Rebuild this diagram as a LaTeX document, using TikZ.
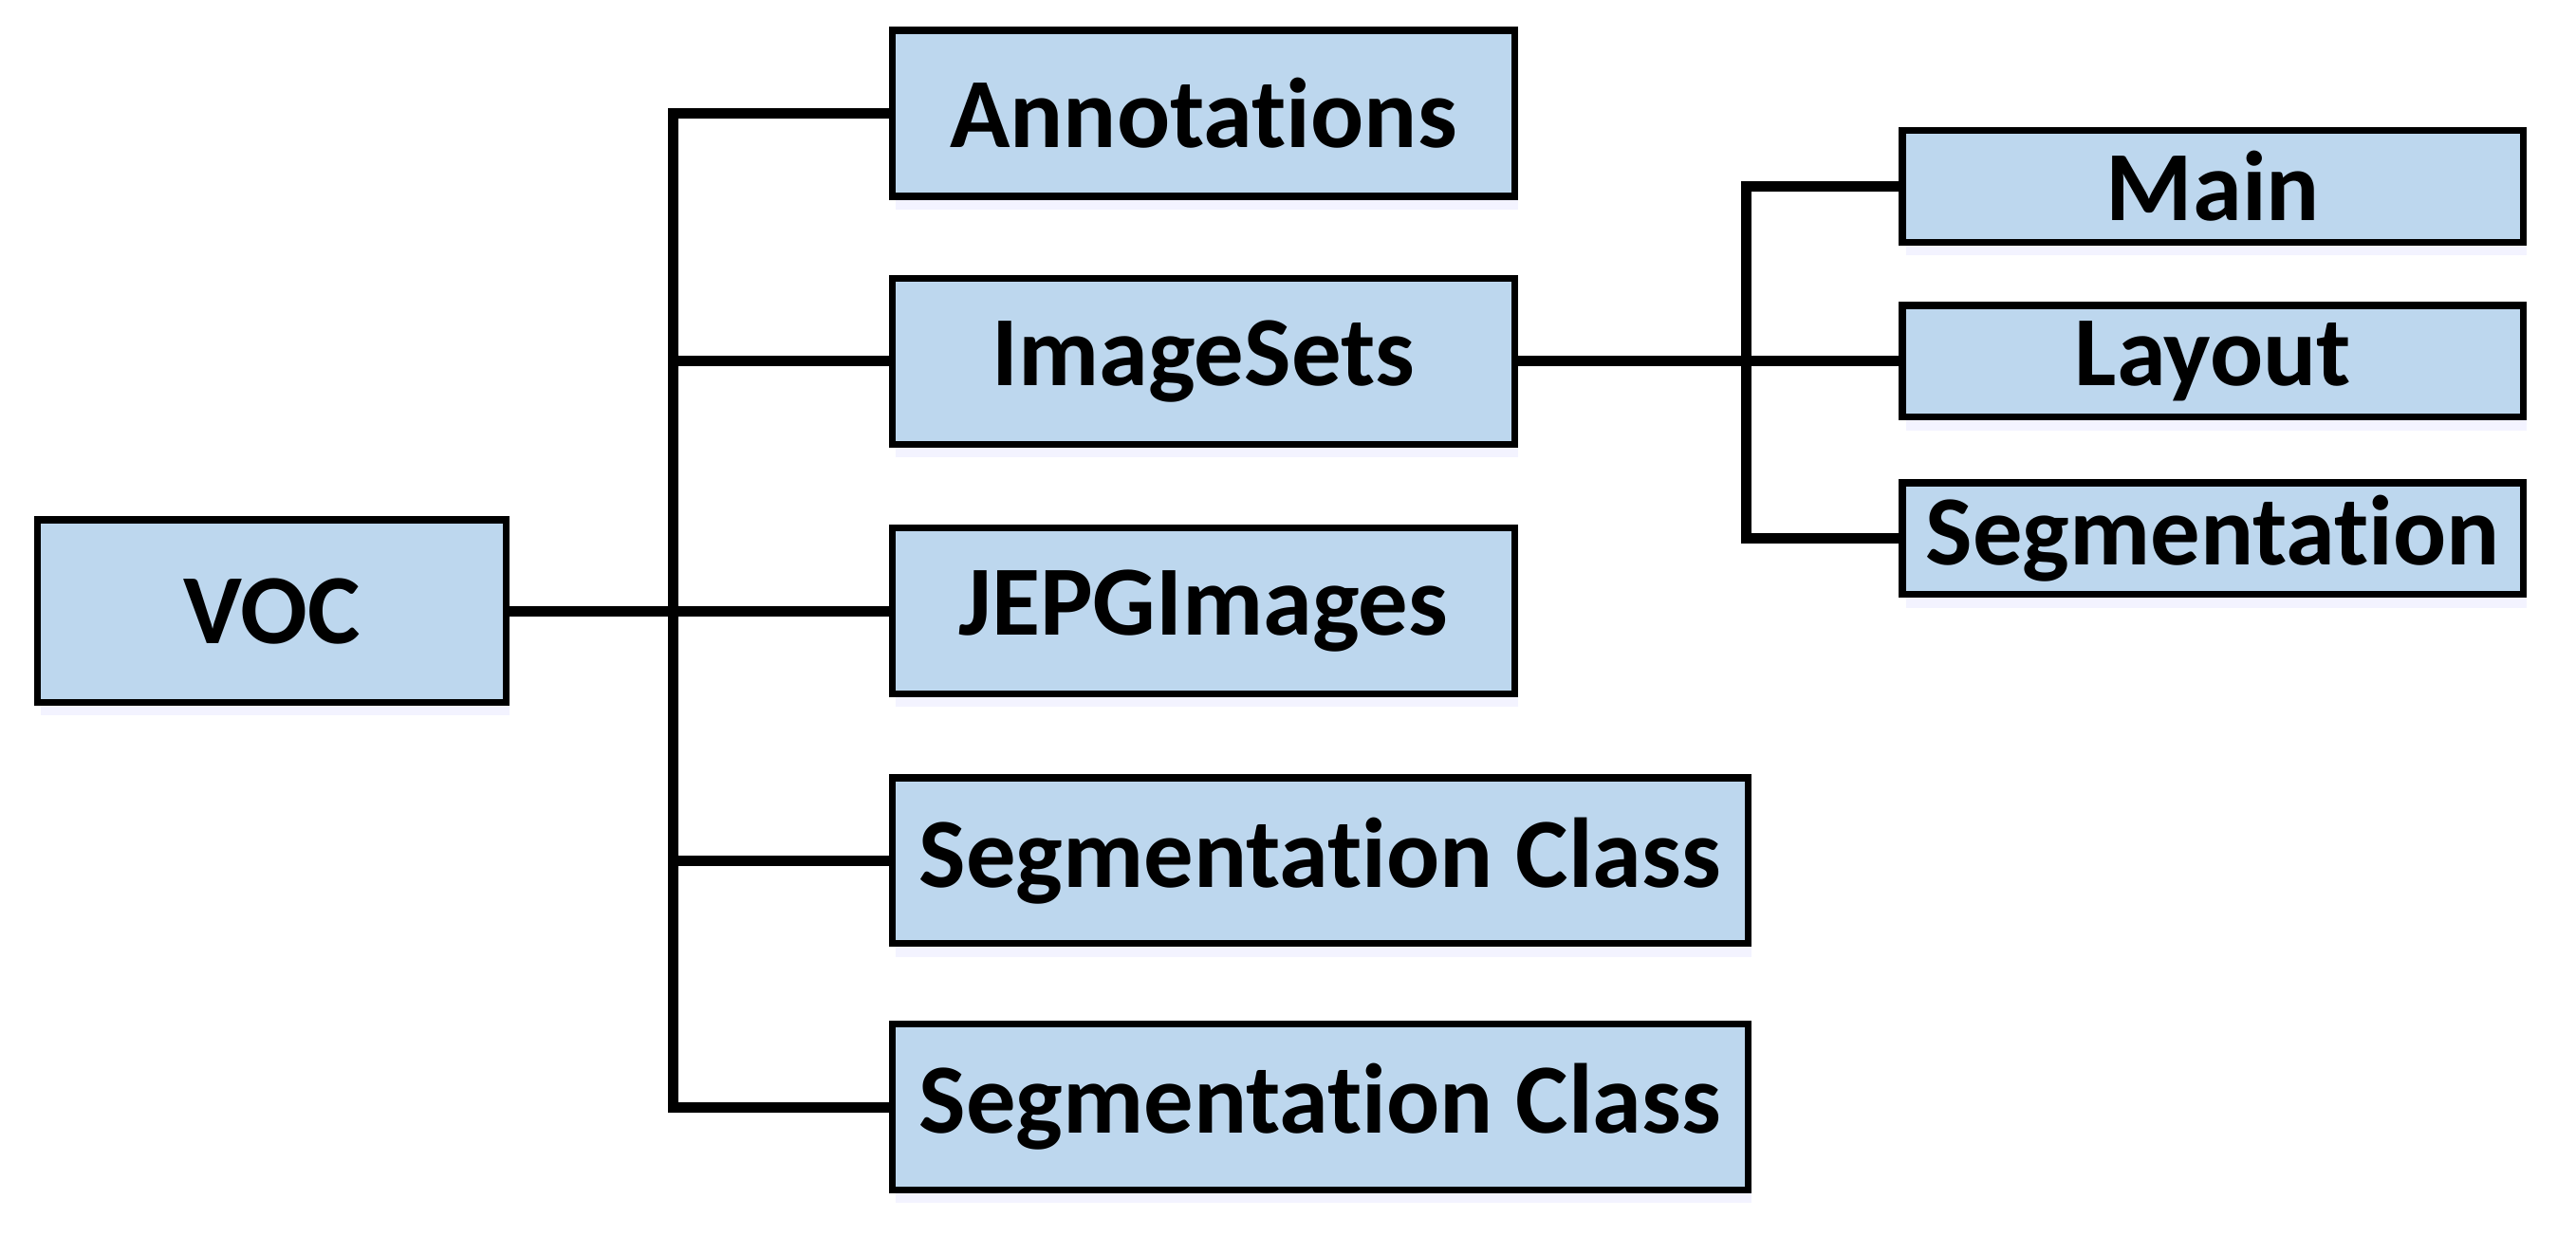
\documentclass[tikz,border=0pt]{standalone}
\usepackage{fontspec}
\setmainfont{Carlito}[Ligatures={NoCommon,NoRare}]
\usetikzlibrary{shadows}
\definecolor{boxblue}{RGB}{189,215,238}

\begin{document}
\begin{tikzpicture}[font=\fontsize{17.2}{20}\selectfont\bfseries,
  box/.style={draw, line width=1.2pt, fill=boxblue, inner sep=2pt,
    drop shadow={opacity=0.12, fill=blue!40, shadow xshift=0.2mm, shadow yshift=-0.8mm}},
  lvl/.style={box, minimum width=3.79cm, minimum height=1.01cm},
  wlvl/.style={box, minimum width=5.21cm, minimum height=1.01cm},
  sub/.style={box, minimum width=3.78cm, minimum height=0.68cm},
  wire/.style={line width=1.8pt}]
\useasboundingbox (0,0) rectangle (15.68,-7.52);
\node[box, minimum width=2.85cm, minimum height=1.11cm] (voc) at (1.655,-3.72) {VOC};
\node[lvl] (ann) at (7.325,-0.69) {Annotations};
\node[lvl] (img) at (7.325,-2.20) {ImageSets};
\node[lvl] (jpg) at (7.325,-3.72) {JEPGImages};
\node[wlvl] (sc1) at (8.035,-5.24) {Segmentation Class};
\node[wlvl] (sc2) at (8.035,-6.74) {Segmentation Class};
\node[sub] (main) at (13.47,-1.135) {Main};
\node[sub] (lay) at (13.47,-2.20) {Layout};
\node[sub] (seg) at (13.47,-3.28) {Segmentation};
\coordinate (trunk) at (4.10,0);
\coordinate (subtrunk) at (10.63,0);
% VOC -> first level
\draw[wire] (ann.west) -| (trunk |- sc2.west) -- (sc2.west);
\draw[wire] (voc.east) -- (jpg.west);
\draw[wire] (img.west) -- (trunk |- img.west);
\draw[wire] (sc1.west) -- (trunk |- sc1.west);
% ImageSets -> second level
\draw[wire] (main.west) -| (subtrunk |- seg.west) -- (seg.west);
\draw[wire] (img.east) -- (lay.west);
\end{tikzpicture}
\end{document}
